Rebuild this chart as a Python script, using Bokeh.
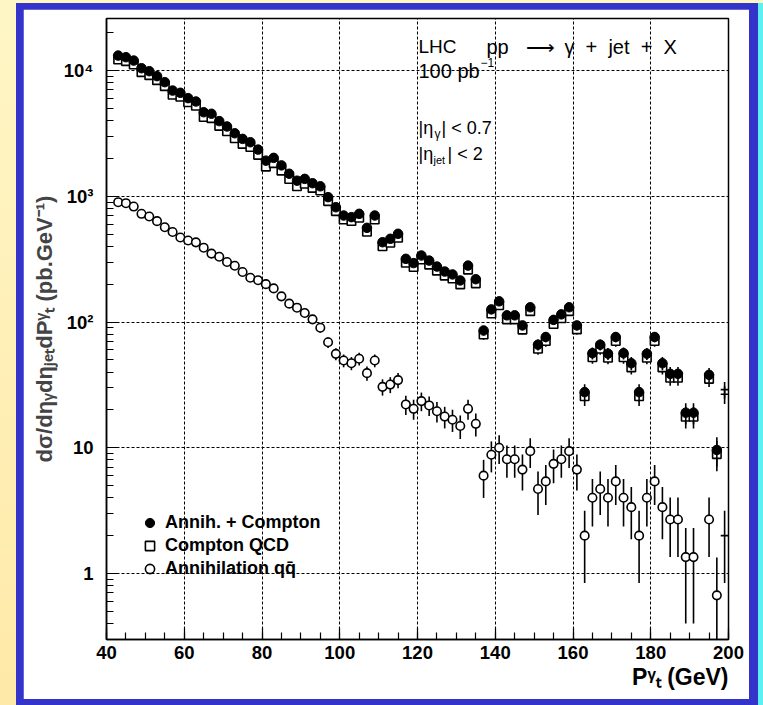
import numpy as np
from bokeh.plotting import figure
from bokeh.models import (ColumnDataSource, FixedTicker, Label, Legend, LegendItem, Range1d, Title)
from bokeh.layouts import column
from bokeh.embed import file_html
from bokeh.resources import INLINE

nan = float("nan")

# photon transverse momentum, bin centres (GeV)
pt_gev = [43, 45, 47, 49, 51, 53, 55, 57, 59, 61, 63, 65, 67, 69, 71, 73, 75, 77, 79, 81,
          83, 85, 87, 89, 91, 93, 95, 97, 99, 101, 103, 105, 107, 109, 111, 113, 115, 117, 119, 121,
          123, 125, 127, 129, 131, 133, 135, 137, 139, 141, 143, 145, 147, 149, 151, 153, 155, 157, 159, 161,
          163, 165, 167, 169, 171, 173, 175, 177, 179, 181, 183, 185, 187, 189, 191, 193, 195, 197, 199]

# Annihilation + Compton (pb/GeV)
total = [13150, 12760, 12000, 10430, 9880, 9020, 8080, 6930, 6650, 6030, 5670, 4660, 4530, 3960, 3590, 3170, 2860, 2690, 2350, 1920,
         2020, 1760, 1510, 1330, 1375, 1270, 1200, 984, 818, 703, 682, 725, 561, 703, 431, 459, 503, 318, 294, 338,
         308, 276, 252, 239, 214, 281, 219, 85.6, 126, 146, 113, 113, 94, 131, 66, 76, 104, 115, 131, 94,
         27.7, 56.5, 66, 56, 76, 56.5, 47, 27.7, 56, 76, 47, 38.7, 38.7, 19, 19, nan, 38, 9.6, 29]
total_err = [94, 92.6, 89.8, 83.7, 81.5, 77.9, 73.7, 68.2, 66.9, 63.7, 61.7, 56.0, 55.2, 51.6, 49.1, 46.2, 43.8, 42.5, 39.7, 35.9,
             36.8, 34.4, 31.9, 29.9, 30.4, 29.2, 28.4, 25.7, 23.4, 21.7, 21.4, 22.1, 19.4, 21.7, 17.0, 17.6, 18.4, 14.6, 14.1, 15.1,
             14.4, 13.6, 13.0, 12.7, 12.0, 13.7, 12.1, 7.6, 9.2, 9.9, 8.7, 8.7, 7.9, 9.4, 6.7, 7.1, 8.4, 8.8, 9.4, 7.9,
             4.3, 6.2, 6.7, 6.1, 7.1, 6.2, 5.6, 4.3, 6.1, 7.1, 5.6, 5.1, 5.1, 3.6, 3.6, nan, 5.1, 2.5, 4.4]

# Compton QCD (pb/GeV)
compton = [12250, 11880, 11170, 9705, 9190, 8386, 7513, 6410, 6180, 5585, 5240, 4270, 4180, 3630, 3290, 2890, 2610, 2465, 2135, 1720,
           1835, 1600, 1370, 1200, 1257, 1165, 1110, 915, 762, 654, 635, 674, 522, 654, 400, 427, 468, 296, 274, 314,
           286, 256, 234, 222, 199, 261, 203, 79.6, 117, 136, 105, 105, 87, 122, 61.3, 70.6, 96.5, 107, 122, 87.3,
           25.7, 52.5, 61.3, 52, 70.6, 52.5, 43.6, 25.7, 52, 70.6, 43.6, 36, 36, 17.65, 17.65, nan, 35.3, 8.9, 26.6]
compton_err = [90.7, 89.3, 86.6, 80.8, 78.6, 75.1, 71.1, 65.6, 64.4, 61.3, 59.3, 53.6, 53.0, 49.4, 47.0, 44.1, 41.9, 40.7, 37.9, 34.0,
               35.1, 32.8, 30.3, 28.4, 29.1, 28.0, 27.3, 24.8, 22.6, 21.0, 20.7, 21.3, 18.7, 21.0, 16.4, 16.9, 17.7, 14.1, 13.6, 14.5,
               13.9, 13.1, 12.5, 12.2, 11.6, 13.2, 11.7, 7.3, 8.9, 9.6, 8.4, 8.4, 7.6, 9.1, 6.4, 6.9, 8.1, 8.5, 9.1, 7.7,
               4.2, 5.9, 6.4, 5.9, 6.9, 5.9, 5.4, 4.2, 5.9, 6.9, 5.4, 4.9, 4.9, 3.4, 3.4, nan, 4.9, 2.4, 4.3]

# Annihilation q qbar (pb/GeV)
annih = [897, 881, 828, 725, 690, 634, 567, 520, 470, 445, 430, 390, 350, 330, 300, 280, 250, 225, 215, 200,
         185, 160, 140, 130, 118, 105, 90, 69, 55.8, 49.4, 47, 51, 39.2, 49.4, 30.5, 31.8, 34.5, 22.1, 20.4, 23.5,
         21.7, 19.5, 17.7, 16.7, 14.9, 20.4, 15.5, 6.0, 8.8, 10, 8.1, 8.1, 6.7, 9.4, 4.7, 5.4, 7.45, 8.1, 9.4, 6.7,
         2.0, 4.0, 4.7, 4.0, 5.4, 4.0, 3.37, 2.0, 4.0, 5.4, 3.37, 2.69, 2.69, 1.35, 1.35, nan, 2.69, 0.67, 2.0]
annih_err = [24.6, 24.3, 23.6, 22.1, 21.5, 20.6, 19.5, 18.7, 17.8, 17.3, 17.0, 16.2, 15.3, 14.9, 14.2, 13.7, 13.0, 12.3, 12.0, 11.6,
             11.15, 10.4, 9.7, 9.35, 8.9, 8.4, 7.78, 6.81, 6.12, 5.76, 5.62, 5.85, 5.13, 5.76, 4.53, 4.62, 4.81, 3.85, 3.70, 3.97,
             3.82, 3.62, 3.45, 3.35, 3.16, 3.70, 3.23, 2.01, 2.43, 2.59, 2.33, 2.33, 2.12, 2.51, 1.78, 1.90, 2.24, 2.33, 2.51, 2.12,
             1.16, 1.64, 1.78, 1.64, 1.90, 1.64, 1.50, 1.16, 1.64, 1.90, 1.50, 1.34, 1.34, 0.95, 0.95, nan, 1.34, 0.67, 1.16]

bin_half_width = 1.0

x_ticks = [40, 60, 80, 100, 120, 140, 160, 180, 200]
x_minor = list(range(40, 201, 5))
y_ticks = [1, 10, 100, 1000, 10000]
y_tick_labels = {1: "1", 10: "10", 100: "10²", 1000: "10³", 10000: "10⁴"}
y_minor = [k * 10.0 ** e for e in range(-1, 5) for k in range(2, 10)]

FONT = "Liberation Sans"
NB = "\u00a0"

p = figure(width=726, height=690, x_range=Range1d(40, 200), y_range=Range1d(0.2986, 25920),
           y_axis_type="log", output_backend="svg", toolbar_location=None,
           min_border_left=83, min_border_right=21, min_border_top=9, min_border_bottom=60,
           background_fill_color="white", border_fill_color="white")
p.margin = (6, 9, 6, 7)
p.outline_line_color = "black"
p.outline_line_width = 1.5

for ax in (p.xaxis[0], p.yaxis[0]):
    ax.axis_line_color = "black"
    ax.axis_line_width = 1.5
    ax.major_tick_in = 12
    ax.major_tick_out = 0
    ax.minor_tick_in = 7
    ax.minor_tick_out = 0
    ax.major_tick_line_width = 1.2
    ax.minor_tick_line_width = 1.2
    ax.major_tick_line_color = "black"
    ax.minor_tick_line_color = "black"
    ax.major_label_text_font = FONT
    ax.major_label_text_font_style = "bold"
    ax.major_label_text_font_size = "18.5px"
    ax.major_label_text_color = "black"

p.xaxis.ticker = FixedTicker(ticks=x_ticks, minor_ticks=x_minor)
p.xaxis.major_label_standoff = 6
p.yaxis.ticker = FixedTicker(ticks=y_ticks, minor_ticks=y_minor)
p.yaxis.major_label_overrides = y_tick_labels
p.yaxis.major_label_standoff = 13

p.yaxis.axis_label = "dσ/dηᵧdηⱼₑₜdPᵞₜ (pb.GeV⁻¹)"
p.yaxis.axis_label_text_font = FONT
p.yaxis.axis_label_text_font_style = "bold"
p.yaxis.axis_label_text_font_size = "22px"
p.yaxis.axis_label_standoff = 4

p.add_layout(Title(text="Pᵞₜ (GeV)", align="right", text_font=FONT, text_font_style="bold",
                   text_font_size="23px", text_color="black", standoff=0, offset=0), "below")

for g in (p.xgrid[0], p.ygrid[0]):
    g.grid_line_color = "black"
    g.grid_line_dash = "3 2"
    g.grid_line_width = 1

pt_arr = np.array(pt_gev, dtype=float)
inside = pt_arr < 198.5


def make_source(vals, errs):
    v = np.array(vals, dtype=float)
    e = np.array(errs, dtype=float)
    lo = np.maximum(v - e, 1e-3)
    return ColumnDataSource(dict(x=pt_arr, y=v, lo=lo, hi=v + e,
                                 xl=pt_arr - bin_half_width, xr=pt_arr + bin_half_width))


def make_marker_source(vals):
    v = np.array(vals, dtype=float)
    return ColumnDataSource(dict(x=pt_arr[inside], y=v[inside]))


def draw_errors(src):
    p.segment(x0="x", y0="lo", x1="x", y1="hi", source=src, line_color="black", line_width=1.6)
    p.segment(x0="xl", y0="y", x1="xr", y1="y", source=src, line_color="black", line_width=1.6)


s_ann = make_source(annih, annih_err)
s_com = make_source(compton, compton_err)
s_tot = make_source(total, total_err)

draw_errors(s_ann)
r_ann = p.scatter("x", "y", source=make_marker_source(annih), marker="circle", size=8.5,
                  fill_color="white", line_color="black", line_width=1.6)
draw_errors(s_com)
r_com = p.scatter("x", "y", source=make_marker_source(compton), marker="square", size=8.5,
                  fill_color="white", line_color="black", line_width=1.6)
draw_errors(s_tot)
r_tot = p.scatter("x", "y", source=make_marker_source(total), marker="circle", size=9.5,
                  fill_color="black", line_color="black", line_width=1)

legend = Legend(items=[LegendItem(label="Annih. + Compton", renderers=[r_tot]),
                       LegendItem(label="Compton QCD", renderers=[r_com]),
                       LegendItem(label="Annihilation qq̄", renderers=[r_ann])],
                location=(32, 59), orientation="vertical",
                background_fill_alpha=0, border_line_color=None,
                label_text_font=FONT, label_text_font_style="bold", label_text_font_size="18px",
                label_text_color="black",
                label_height=23, glyph_height=23, glyph_width=23, label_standoff=4,
                spacing=0, padding=0, margin=0)
p.add_layout(legend, "center")

# frame geometry helpers: screen units are measured from frame bottom-left
FL, FB = 106, 639


def lab(text, cx, cy, size, style="normal", align="left"):
    p.add_layout(Label(x=cx - FL, y=FB - cy, x_units="screen", y_units="screen", text=text,
                       text_font=FONT, text_font_size=size, text_font_style=style,
                       text_align=align, text_baseline="middle", text_color="black"))


gap = " " + NB
lab("LHC", 418, 46, "19px")
lab("pp", 486, 46, "20px")
lab("⟶", 525, 46, "20px")
lab("γ" + gap + "+" + gap + "jet" + gap + "+" + gap + "X", 564, 46, "20px")
lab("100 pb", 418, 70, "20px")
lab("−1", 480, 62, "12px")
lab("|η", 418, 127, "18px")
lab("γ", 434, 133, "12px")
lab("| < 0.7", 441, 127, "18px")
lab("|η", 418, 153, "18px")
lab("jet", 433, 159, "11px")
lab("| < 2", 447, 153, "18px")

inner = column(p, styles={"background-color": "#3434CC", "box-shadow": "5px 0 0 0 #5CF0F0"},
               margin=(3, 0, 0, 16))
outer = column(inner, width=763, height=705, sizing_mode="fixed",
               styles={"background": "linear-gradient(180deg, #FFF6C6 0%, #FFE9A8 100%)"})

open("out.html", "w").write(file_html(outer, INLINE))
